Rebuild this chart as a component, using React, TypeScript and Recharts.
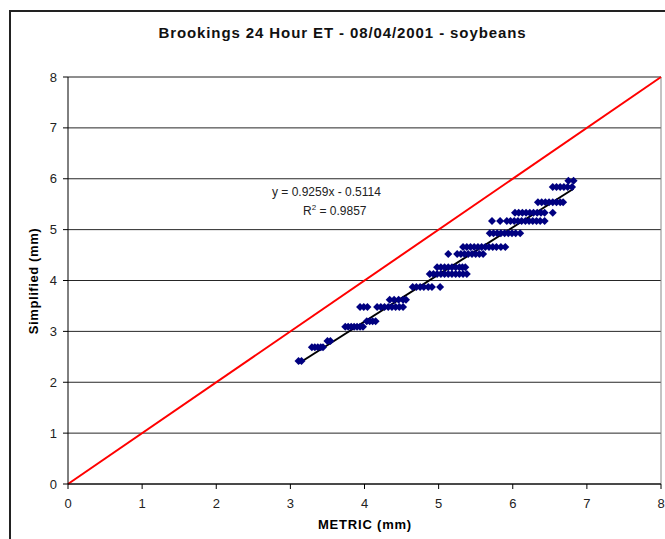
import React from "react"
import { ScatterChart, Scatter, XAxis, YAxis, CartesianGrid, ReferenceLine } from "recharts"

// METRIC vs Simplified 24 hour ET (mm), one [x, y] pair per point
const etPoints: [number, number][] = [
  [3.11, 2.42], [3.15, 2.42],
  [3.29, 2.69], [3.33, 2.69], [3.37, 2.69], [3.41, 2.69], [3.44, 2.69],
  [3.5, 2.81], [3.54, 2.81],
  [3.74, 3.09], [3.78, 3.09], [3.82, 3.09], [3.86, 3.09], [3.9, 3.09], [3.94, 3.09], [3.98, 3.09],
  [4.03, 3.2], [4.07, 3.2], [4.11, 3.2], [4.15, 3.2],
  [3.94, 3.48], [3.99, 3.48], [4.04, 3.48],
  [4.17, 3.48], [4.22, 3.48], [4.27, 3.48], [4.32, 3.48], [4.37, 3.48], [4.42, 3.48], [4.47, 3.48], [4.52, 3.48],
  [4.34, 3.62], [4.4, 3.62], [4.46, 3.62], [4.52, 3.62], [4.56, 3.62],
  [4.65, 3.87], [4.7, 3.87], [4.75, 3.87], [4.8, 3.87], [4.86, 3.87], [4.91, 3.87], [5.02, 3.87],
  [4.88, 4.13], [4.93, 4.13], [4.98, 4.13], [5.03, 4.13], [5.08, 4.13], [5.13, 4.13], [5.18, 4.13], [5.23, 4.13], [5.28, 4.13], [5.33, 4.13], [5.38, 4.13],
  [4.98, 4.26], [5.03, 4.26], [5.08, 4.26], [5.13, 4.26], [5.18, 4.26], [5.23, 4.26], [5.28, 4.26], [5.32, 4.26], [5.36, 4.26],
  [5.13, 4.52],
  [5.25, 4.52], [5.3, 4.52], [5.35, 4.52], [5.4, 4.52], [5.45, 4.52], [5.5, 4.52], [5.55, 4.52], [5.6, 4.52],
  [5.33, 4.66], [5.38, 4.66], [5.43, 4.66], [5.48, 4.66], [5.53, 4.66], [5.58, 4.66], [5.63, 4.66], [5.68, 4.66], [5.73, 4.66], [5.78, 4.66], [5.84, 4.66], [5.9, 4.66],
  [5.69, 4.93], [5.74, 4.93], [5.79, 4.93], [5.84, 4.93], [5.89, 4.93], [5.94, 4.93], [5.99, 4.93], [6.04, 4.93], [6.1, 4.93],
  [5.72, 5.17], [5.83, 5.17],
  [5.92, 5.17], [5.97, 5.17], [6.02, 5.17], [6.07, 5.17], [6.12, 5.17], [6.17, 5.17], [6.22, 5.17], [6.27, 5.17], [6.32, 5.17], [6.37, 5.17], [6.43, 5.17],
  [6.03, 5.33], [6.08, 5.33], [6.13, 5.33], [6.18, 5.33], [6.23, 5.33], [6.28, 5.33], [6.33, 5.33], [6.38, 5.33], [6.43, 5.33], [6.54, 5.33],
  [6.34, 5.54], [6.39, 5.54], [6.44, 5.54], [6.49, 5.54], [6.54, 5.54], [6.59, 5.54], [6.64, 5.54], [6.68, 5.54],
  [6.54, 5.84], [6.59, 5.84], [6.64, 5.84], [6.69, 5.84], [6.74, 5.84], [6.8, 5.84],
  [6.75, 5.96], [6.82, 5.96],
]

const axisTicks = [0, 1, 2, 3, 4, 5, 6, 7, 8]

// linear fit printed on the chart
const fitSlope = 0.9259
const fitIntercept = -0.5114
const fitR2 = 0.9857

const data = etPoints.map(([x, y]) => ({ x, y }))
const xs = etPoints.map(p => p[0])
const fitStart = Math.min(...xs)
const fitEnd = Math.max(...xs)

const FONT = "'Liberation Sans', Arial, sans-serif"

function Diamond(props: any) {
  const { cx, cy } = props
  const r = 4
  return (
    <polygon
      points={`${cx},${cy - r} ${cx + r},${cy} ${cx},${cy + r} ${cx - r},${cy}`}
      fill="#000080"
    />
  )
}

export default function App() {
  return (
    <div style={{ position: "fixed", left: 0, top: 0, width: 665, height: 539, overflow: "hidden", background: "#fff", fontFamily: FONT }}>
      <div style={{ position: "absolute", left: 9, top: 10, width: 700, height: 600, border: "2px solid #222" }} />
      <div style={{ position: "absolute", left: 0, top: 24, width: 685, textAlign: "center", fontSize: 15, fontWeight: 700, letterSpacing: 0.9, color: "#111" }}>
        Brookings 24 Hour ET - 08/04/2001 - soybeans
      </div>
      <div style={{ position: "absolute", left: 0, top: 0 }}>
        <ScatterChart width={665} height={539} margin={{ top: 77, right: 4, bottom: 25, left: 18 }}>
          <CartesianGrid vertical={false} stroke="#000" strokeOpacity={0.85} />
          <XAxis
            type="number"
            dataKey="x"
            domain={[0, 8]}
            ticks={axisTicks}
            allowDataOverflow
            height={30}
            stroke="#000"
            tickSize={5}
            tickMargin={10}
            tick={{ fontSize: 13, fill: "#222", fontFamily: FONT }}
          />
          <YAxis
            type="number"
            dataKey="y"
            domain={[0, 8]}
            ticks={axisTicks}
            allowDataOverflow
            width={50}
            stroke="#000"
            tickSize={5}
            tickMargin={6}
            tick={{ fontSize: 13, fill: "#222", fontFamily: FONT }}
          />
          <ReferenceLine y={8} stroke="#888" />
          <ReferenceLine x={8} stroke="#888" />
          <ReferenceLine segment={[{ x: 0, y: 0 }, { x: 8, y: 8 }]} stroke="#ff0000" strokeWidth={2} />
          <Scatter data={data} shape={Diamond} isAnimationActive={false} />
          <ReferenceLine
            segment={[
              { x: fitStart, y: fitSlope * fitStart + fitIntercept },
              { x: fitEnd, y: fitSlope * fitEnd + fitIntercept },
            ]}
            stroke="#000"
            strokeWidth={2}
          />
        </ScatterChart>
      </div>
      <div style={{ position: "absolute", left: 272, top: 185, fontSize: 12, color: "#222", whiteSpace: "nowrap" }}>
        y = {fitSlope}x - {Math.abs(fitIntercept)}
      </div>
      <div style={{ position: "absolute", left: 303, top: 204, fontSize: 12, color: "#222", whiteSpace: "nowrap" }}>
        R<sup style={{ fontSize: 8, verticalAlign: "top", lineHeight: "8px" }}>2</sup> = {fitR2}
      </div>
      <div style={{ position: "absolute", left: 33, top: 281, transform: "translate(-50%, -50%) rotate(-90deg)", fontSize: 13, fontWeight: 700, letterSpacing: 0.6, whiteSpace: "nowrap" }}>
        Simplified (mm)
      </div>
      <div style={{ position: "absolute", left: 365, top: 524, transform: "translate(-50%, -50%)", fontSize: 13, fontWeight: 700, letterSpacing: 0.8, whiteSpace: "nowrap" }}>
        METRIC (mm)
      </div>
    </div>
  )
}
